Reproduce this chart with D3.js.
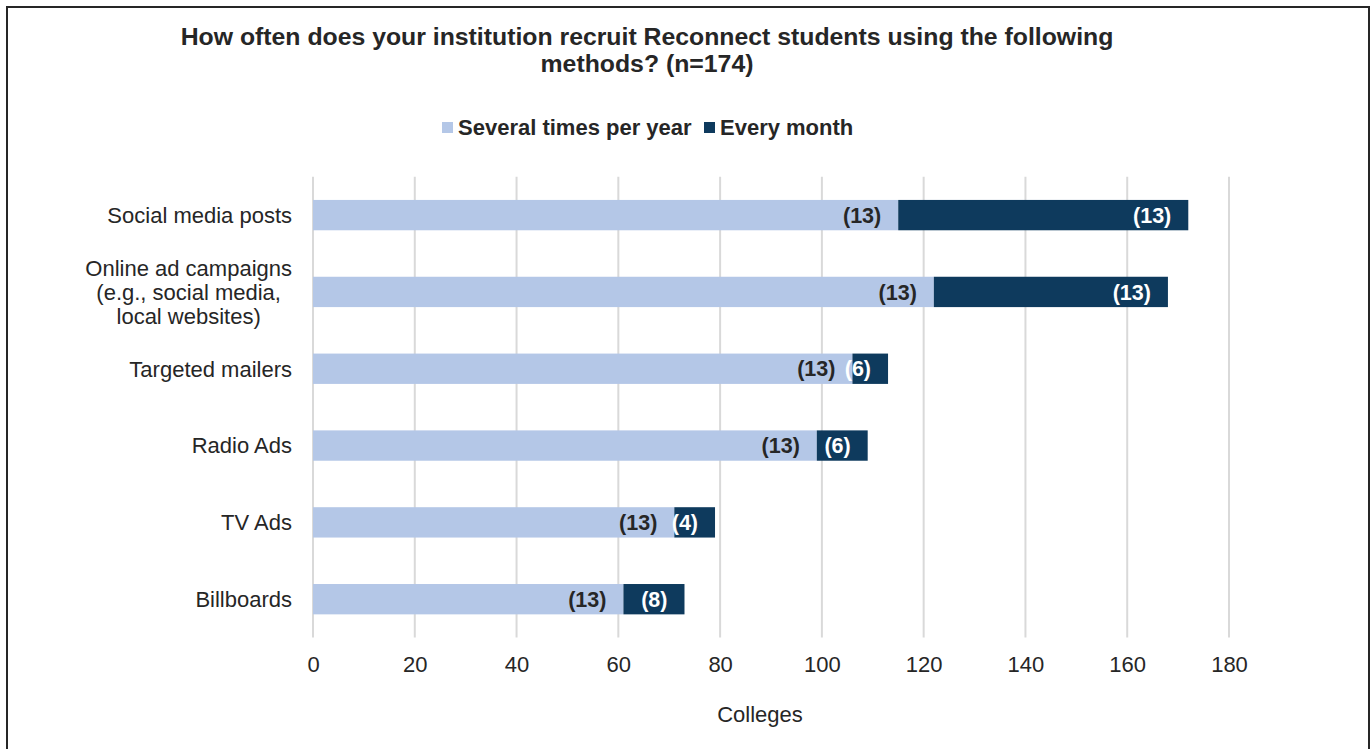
<!DOCTYPE html>
<html>
<head>
<meta charset="utf-8">
<script src="https://cdn.jsdelivr.net/npm/d3@7"></script>
<style>
  html, body { margin: 0; padding: 0; background: #fff; }
  svg { display: block; font-family: "Liberation Sans", Arial, Helvetica, sans-serif; }
</style>
</head>
<body>
<svg id="chart" width="1371" height="749"></svg>
<script>
// Recruitment methods and number of colleges using each, by frequency
const categories = [
  ["Social media posts"],
  ["Online ad campaigns", "(e.g., social media,", "local websites)"],
  ["Targeted mailers"],
  ["Radio Ads"],
  ["TV Ads"],
  ["Billboards"]
];
const seriesNames = ["Several times per year", "Every month"];
const severalTimes = [115, 122, 106, 99, 71, 61];
const everyMonth = [57, 46, 7, 10, 8, 12];
const severalLabels = ["(13)", "(13)", "(13)", "(13)", "(13)", "(13)"];
const monthLabels = ["(13)", "(13)", "(6)", "(6)", "(4)", "(8)"];
const xTicks = [0, 20, 40, 60, 80, 100, 120, 140, 160, 180];
const titleLines = [
  "How often does your institution recruit Reconnect students using the following",
  "methods? (n=174)"
];
const axisTitle = "Colleges";

const colors = ["#B4C7E7", "#0E3A5D"];
const textColor = "#262626";

const svg = d3.select("#chart");

// Frame around the chart
svg.append("rect")
  .attr("x", 7).attr("y", 7)
  .attr("width", 1362).attr("height", 800)
  .attr("fill", "none").attr("stroke", "#262626").attr("stroke-width", 2);

const x = d3.scaleLinear().domain([0, 180]).range([313, 1229]);
const y = d3.scaleBand()
  .domain(d3.range(categories.length))
  .range([176.7, 637.6])
  .paddingInner(0.605)
  .paddingOuter(0.3025);

// Vertical gridlines
svg.append("g")
  .selectAll("line")
  .data(xTicks)
  .join("line")
  .attr("x1", d => x(d)).attr("x2", d => x(d))
  .attr("y1", 176.7).attr("y2", 637.6)
  .attr("stroke", "#D9D9D9").attr("stroke-width", 2);

// Bottom axis tick labels
const xAxis = d3.axisBottom(x).tickValues(xTicks).tickSize(0).tickPadding(0);
const gx = svg.append("g").attr("transform", "translate(0,656)").call(xAxis);
gx.select(".domain").remove();
gx.selectAll("text")
  .attr("font-size", 22).attr("fill", textColor)
  .attr("font-family", "Liberation Sans, Arial, sans-serif")
  .attr("dy", "0.71em");

// Stacked segments
const stacked = categories.map((c, i) => ({
  i,
  segs: [
    { s: 0, x0: 0, x1: severalTimes[i], label: severalLabels[i] },
    { s: 1, x0: severalTimes[i], x1: severalTimes[i] + everyMonth[i], label: monthLabels[i] }
  ]
}));

const rows = svg.append("g").selectAll("g")
  .data(stacked)
  .join("g");

rows.selectAll("rect")
  .data(d => d.segs.map(s => ({ ...s, i: d.i })))
  .join("rect")
  .attr("x", d => x(d.x0))
  .attr("y", d => y(d.i))
  .attr("width", d => x(d.x1) - x(d.x0))
  .attr("height", y.bandwidth())
  .attr("fill", d => colors[d.s]);

rows.selectAll("text")
  .data(d => d.segs.map(s => ({ ...s, i: d.i })))
  .join("text")
  .attr("x", d => x(d.x1) - 17)
  .attr("y", d => y(d.i) + y.bandwidth() / 2)
  .attr("dy", "0.36em")
  .attr("text-anchor", "end")
  .attr("font-size", 21.5)
  .attr("font-weight", "bold")
  .attr("fill", d => d.s === 0 ? textColor : "#FFFFFF")
  .text(d => d.label);

// Category labels, multi-line labels centred on their widest line
const catG = svg.append("g");
categories.forEach((lines, i) => {
  const cy = y(i) + y.bandwidth() / 2;
  const lh = 24;
  const t = catG.append("text")
    .attr("font-size", 22)
    .attr("fill", textColor);
  lines.forEach((ln, k) => {
    t.append("tspan")
      .attr("y", cy + (k - (lines.length - 1) / 2) * lh)
      .attr("dy", "0.36em")
      .text(ln);
  });
  const widths = [];
  t.selectAll("tspan").each(function () { widths.push(this.getComputedTextLength()); });
  const maxW = d3.max(widths);
  t.attr("text-anchor", "middle");
  t.selectAll("tspan").attr("x", 292 - maxW / 2);
});

// Title
svg.append("text")
  .attr("text-anchor", "middle")
  .attr("font-size", 24.8)
  .attr("font-weight", "bold")
  .attr("fill", textColor)
  .selectAll("tspan")
  .data(titleLines)
  .join("tspan")
  .attr("x", 647)
  .attr("y", (d, k) => 45 + k * 27)
  .text(d => d);

// Legend
const legend = svg.append("g");
const legendItems = [
  { name: seriesNames[0], color: colors[0], x: 442 },
  { name: seriesNames[1], color: colors[1], x: 704 }
];
legendItems.forEach(it => {
  legend.append("rect")
    .attr("x", it.x).attr("y", 122)
    .attr("width", 11).attr("height", 11)
    .attr("fill", it.color);
  legend.append("text")
    .attr("x", it.x + 16).attr("y", 135)
    .attr("font-size", 22)
    .attr("font-weight", "bold")
    .attr("fill", textColor)
    .text(it.name);
});

// Axis title
svg.append("text")
  .attr("x", 760).attr("y", 722)
  .attr("text-anchor", "middle")
  .attr("font-size", 22)
  .attr("fill", textColor)
  .text(axisTitle);
</script>
</body>
</html>
